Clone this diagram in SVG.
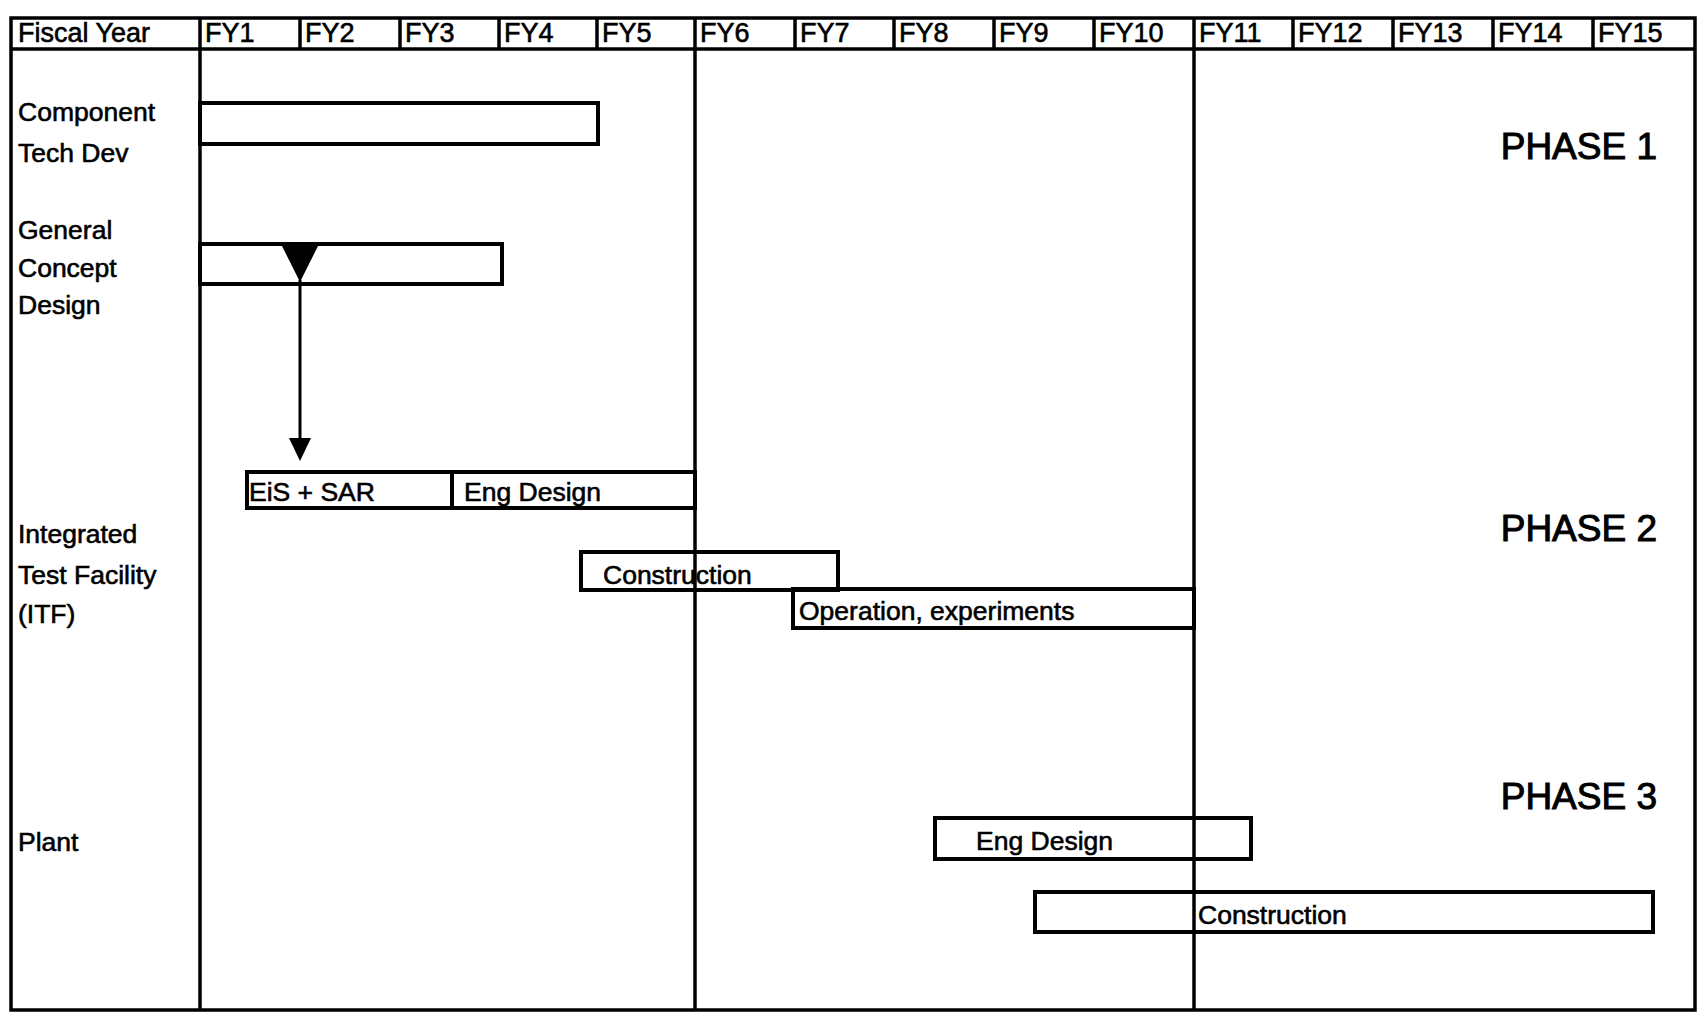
<svg xmlns="http://www.w3.org/2000/svg" width="1700" height="1014" viewBox="0 0 1700 1014">
<style>
.grid{stroke:#000;stroke-width:3.5;fill:none}
.bar{stroke:#000;stroke-width:4;fill:none}
.t{font-family:"Liberation Sans",Arial,sans-serif;font-size:26.5px;fill:#000;stroke:#000;stroke-width:0.6}
.hd{font-family:"Liberation Sans",Arial,sans-serif;font-size:27px;fill:#000;stroke:#000;stroke-width:0.6}
.ph{font-family:"Liberation Sans",Arial,sans-serif;font-size:37px;fill:#000;stroke:#000;stroke-width:1;text-anchor:end}
</style>
<rect width="1700" height="1014" fill="#fff"/>
<g id="grid">
<rect class="grid" x="11" y="18" width="1684" height="992" stroke-width="4"/>
<line class="grid" x1="11" y1="49" x2="1695" y2="49"/>
<line class="grid" x1="200" y1="18" x2="200" y2="1010"/>
<line class="grid" x1="695" y1="18" x2="695" y2="1010"/>
<line class="grid" x1="1194" y1="18" x2="1194" y2="1010"/>
<line class="grid" x1="300" y1="18" x2="300" y2="49"/>
<line class="grid" x1="400" y1="18" x2="400" y2="49"/>
<line class="grid" x1="499" y1="18" x2="499" y2="49"/>
<line class="grid" x1="597" y1="18" x2="597" y2="49"/>
<line class="grid" x1="795" y1="18" x2="795" y2="49"/>
<line class="grid" x1="894" y1="18" x2="894" y2="49"/>
<line class="grid" x1="994" y1="18" x2="994" y2="49"/>
<line class="grid" x1="1094" y1="18" x2="1094" y2="49"/>
<line class="grid" x1="1293" y1="18" x2="1293" y2="49"/>
<line class="grid" x1="1393" y1="18" x2="1393" y2="49"/>
<line class="grid" x1="1493" y1="18" x2="1493" y2="49"/>
<line class="grid" x1="1593" y1="18" x2="1593" y2="49"/>
</g>
<g id="header">
<text class="hd" x="18" y="42">Fiscal Year</text>
<text class="hd" x="205" y="42">FY1</text>
<text class="hd" x="305" y="42">FY2</text>
<text class="hd" x="405" y="42">FY3</text>
<text class="hd" x="504" y="42">FY4</text>
<text class="hd" x="602" y="42">FY5</text>
<text class="hd" x="700" y="42">FY6</text>
<text class="hd" x="800" y="42">FY7</text>
<text class="hd" x="899" y="42">FY8</text>
<text class="hd" x="999" y="42">FY9</text>
<text class="hd" x="1099" y="42">FY10</text>
<text class="hd" x="1199" y="42">FY11</text>
<text class="hd" x="1298" y="42">FY12</text>
<text class="hd" x="1398" y="42">FY13</text>
<text class="hd" x="1498" y="42">FY14</text>
<text class="hd" x="1598" y="42">FY15</text>
</g>
<g id="labels">
<text class="t" x="18" y="121">Component</text>
<text class="t" x="18" y="162">Tech Dev</text>
<text class="t" x="18" y="239">General</text>
<text class="t" x="18" y="277">Concept</text>
<text class="t" x="18" y="314">Design</text>
<text class="t" x="18" y="543">Integrated</text>
<text class="t" x="18" y="584">Test Facility</text>
<text class="t" x="18" y="623">(ITF)</text>
<text class="t" x="18" y="851">Plant</text>
</g>
<g id="phases">
<text class="ph" x="1657" y="159">PHASE 1</text>
<text class="ph" x="1657" y="541">PHASE 2</text>
<text class="ph" x="1657" y="809">PHASE 3</text>
</g>
<g id="bar-component-tech-dev">
<rect class="bar" x="200" y="103" width="398" height="41"/>
</g>
<g id="bar-general-concept-design">
<rect class="bar" x="200" y="244" width="302" height="40"/>
</g>
<g id="bar-eis-sar">
<rect class="bar" x="247" y="472" width="205" height="36"/>
<text class="t" x="249" y="501">EiS + SAR</text>
</g>
<g id="bar-itf-eng-design">
<rect class="bar" x="452" y="472" width="243" height="36"/>
<text class="t" x="464" y="501">Eng Design</text>
</g>
<g id="bar-itf-construction">
<rect class="bar" x="581" y="552" width="257" height="38"/>
<text class="t" x="603" y="584">Construction</text>
</g>
<g id="bar-itf-operation">
<rect class="bar" x="793" y="589" width="401" height="39"/>
<text class="t" x="799" y="620">Operation, experiments</text>
</g>
<g id="bar-plant-eng-design">
<rect class="bar" x="935" y="818" width="316" height="41"/>
<text class="t" x="976" y="850">Eng Design</text>
</g>
<g id="bar-plant-construction">
<rect class="bar" x="1035" y="892" width="618" height="40"/>
<text class="t" x="1198" y="924">Construction</text>
</g>
<g id="connectors">
<path d="M281,244 L319,244 L300,282 Z" fill="#000"/>
<line x1="300" y1="280" x2="300" y2="440" stroke="#000" stroke-width="3"/>
<path d="M289,438 L311,438 L300,461 Z" fill="#000"/>
</g>
</svg>
